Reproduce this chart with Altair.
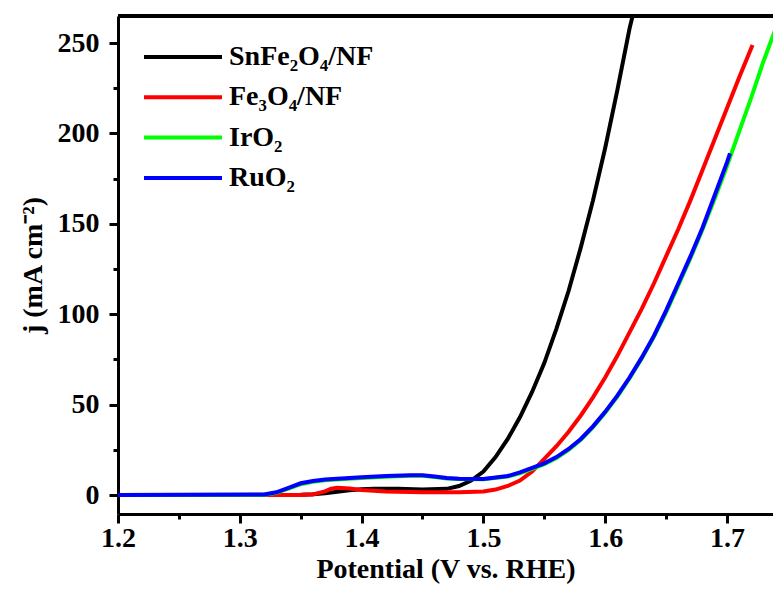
import altair as alt
import pandas as pd

# ---- data ----
series_names = ["SnFe₂O₄/NF", "Fe₃O₄/NF", "IrO₂", "RuO₂"]
series_colors = ["#000000", "#ff0000", "#00ff00", "#0000ff"]

black_x = [1.20, 1.30, 1.35, 1.36, 1.37, 1.38, 1.39, 1.40, 1.41, 1.43, 1.45, 1.47, 1.48,
           1.49, 1.50, 1.51, 1.52, 1.53, 1.54, 1.55, 1.56, 1.57, 1.58, 1.59, 1.60, 1.61, 1.62, 1.6225]
black_y = [0, 0, 0.1, 0.4, 1.0, 1.8, 2.6, 3.2, 3.5, 3.5, 3.1, 3.4, 5.0,
           8.0, 13, 21, 31, 43, 57, 73, 92, 113, 137, 163, 192, 224, 258, 265]

red_x = [1.20, 1.35, 1.36, 1.37, 1.375, 1.38, 1.39, 1.40, 1.42, 1.45, 1.48, 1.50, 1.51, 1.52,
         1.53, 1.54, 1.55, 1.56, 1.57, 1.58, 1.59, 1.60, 1.61, 1.62, 1.63, 1.64, 1.65,
         1.66, 1.67, 1.68, 1.69, 1.70, 1.71, 1.721]
red_y = [0, 0, 0.3, 2.0, 3.5, 4.0, 3.6, 2.8, 2.0, 1.5, 1.5, 2.0, 3.0, 5.0,
         8.0, 13, 20, 27, 35, 44, 54, 65, 77, 90, 103, 117, 132,
         147, 163, 180, 197, 214, 231, 249]

green_x = [1.20, 1.32, 1.33, 1.34, 1.35, 1.36, 1.37, 1.38, 1.39, 1.40, 1.42, 1.44, 1.45,
           1.46, 1.47, 1.48, 1.50, 1.52, 1.53, 1.54, 1.55, 1.56, 1.57, 1.58, 1.59, 1.60,
           1.61, 1.62, 1.63, 1.64, 1.65, 1.66, 1.67, 1.68, 1.69, 1.70, 1.71, 1.72, 1.73,
           1.74, 1.7443]
green_y = [0, 0.2, 1.2, 3.5, 6.0, 7.3, 8.2, 8.6, 9.0, 9.4, 10.1, 10.6, 10.6,
           10.0, 9.2, 8.8, 8.7, 10.2, 12.0, 14.5, 17.0, 20.5, 25.0, 30.5, 37.5, 45.5,
           54.5, 64.5, 75.5, 87.5, 101, 116, 131, 147, 164, 182, 201, 220, 240,
           258, 265]

blue_x = [1.20, 1.32, 1.33, 1.34, 1.35, 1.36, 1.37, 1.38, 1.39, 1.40, 1.42, 1.44, 1.45,
          1.46, 1.47, 1.48, 1.50, 1.52, 1.53, 1.54, 1.55, 1.56, 1.57, 1.58, 1.59, 1.60,
          1.61, 1.62, 1.63, 1.64, 1.65, 1.66, 1.67, 1.68, 1.69, 1.70, 1.7025]
blue_y = [0, 0.3, 1.5, 4.0, 6.5, 7.8, 8.6, 9.0, 9.4, 9.8, 10.5, 11.0, 11.0,
          10.3, 9.4, 9.0, 8.9, 10.5, 12.5, 15.0, 17.5, 21.0, 25.5, 31.0, 38.0, 46.0,
          55.0, 65.0, 76.0, 88.0, 102, 117, 132, 148, 166, 184, 189]

x_ticks = [1.2, 1.25, 1.3, 1.35, 1.4, 1.45, 1.5, 1.55, 1.6, 1.65, 1.7]
y_ticks = [0, 25, 50, 75, 100, 125, 150, 175, 200, 225, 250]

X_MIN, X_MAX = 1.2, 1.7378
Y_MIN, Y_MAX = -10.5, 265

rows = []
for order, (name, xs, ys) in enumerate(zip(series_names,
                                           [black_x, red_x, green_x, blue_x],
                                           [black_y, red_y, green_y, blue_y])):
    for i, (xv, yv) in enumerate(zip(xs, ys)):
        rows.append({"series": name, "E": xv, "j": yv, "order": order, "idx": i})
df = pd.DataFrame(rows)

FONT = "Liberation Serif, Times New Roman, serif"

x_scale = alt.Scale(domain=[X_MIN, X_MAX], nice=False, zero=False)
y_scale = alt.Scale(domain=[Y_MIN, Y_MAX], nice=False, zero=False)

x_axis = alt.Axis(
    values=x_ticks,
    labelExpr="round(datum.value*100) % 10 == 0 ? format(datum.value, '.1f') : ''",
    tickSize={"condition": {"test": "round(datum.value*100) % 10 == 0", "value": 9}, "value": 5},
    labelOverlap=False,
    labelFlush=False,
    title="Potential (V vs. RHE)",
    labelPadding=1,
    titlePadding=3,
)
y_axis = alt.Axis(
    values=y_ticks,
    labelExpr="datum.value % 50 == 0 ? format(datum.value, 'd') : ''",
    tickSize={"condition": {"test": "datum.value % 50 == 0", "value": 9}, "value": 5},
    labelOverlap=False,
    labelFlush=False,
    title="j (mA cm⁻²)",
    labelPadding=10,
    titlePadding=10,
)

lines = alt.Chart(df).mark_line(strokeWidth=4, clip=True).encode(
    x=alt.X("E:Q", scale=x_scale, axis=x_axis),
    y=alt.Y("j:Q", scale=y_scale, axis=y_axis),
    color=alt.Color(
        "series:N",
        scale=alt.Scale(domain=series_names, range=series_colors),
        legend=alt.Legend(
            orient="none", legendX=24, legendY=26, title=None,
            symbolType="M-1,0L5,0", symbolSize=676, symbolStrokeWidth=4,
            labelFont=FONT, labelFontWeight="bold", labelFontSize=28,
            labelColor="black", labelOffset=57, rowPadding=11.3, padding=0,
        ),
    ),
    order=alt.Order("idx:Q"),
    detail="order:N",
)

top_frame = alt.Chart(df).mark_rule(color="black", strokeWidth=3).encode(
    x=alt.datum(X_MIN, scale=x_scale),
    x2=alt.datum(X_MAX),
    y=alt.datum(Y_MAX, scale=y_scale),
)

chart = alt.layer(lines, top_frame).properties(
    width=655,
    height=498,
    autosize="none",
    padding={"left": 110, "top": 8, "right": 0, "bottom": 70},
).configure_view(
    stroke=None
).configure_axis(
    grid=False,
    domainColor="black", domainWidth=3,
    tickColor="black", tickWidth=3,
    labelFont=FONT, labelFontWeight="bold", labelFontSize=28, labelColor="black",
    titleFont=FONT, titleFontWeight="bold", titleFontSize=28, titleColor="black",
)

chart.save("out.html", embed_options={"renderer": "svg", "actions": False})
